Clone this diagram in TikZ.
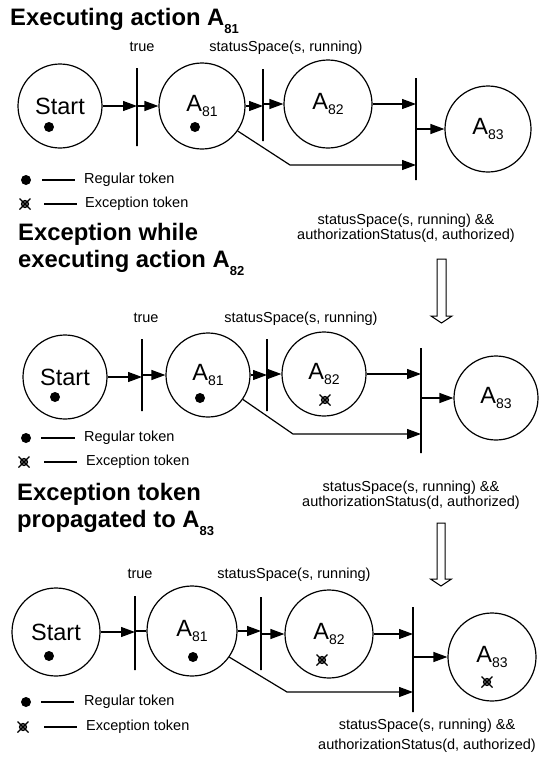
\documentclass[tikz,border=0pt]{standalone}
\usepackage{fontspec}
\setmainfont{Liberation Sans}
\usetikzlibrary{arrows.meta}

% text sizes
\newcommand{\smalltxt}{\fontsize{14.5}{16}\selectfont}
% place names with a lowered index, e.g. A81
\newcommand{\Asub}[1]{A\raisebox{-5pt}{\fontsize{14}{14}\selectfont #1}}
\newcommand{\Tsub}[1]{A\raisebox{-8pt}{\fontsize{13}{13}\selectfont #1}}

\tikzset{
  place/.style={circle, draw, line width=1.2pt, inner sep=0pt,
                font=\fontsize{23.5}{23.5}\selectfont},
  trans/.style={rectangle, draw, line width=1.4pt, inner sep=0pt, minimum width=0pt},
  arr/.style={line width=1.2pt, -{Triangle[length=14pt,width=10pt]}},
  flow/.style={line width=1.2pt},
  guard/.style={font=\smalltxt, anchor=base, inner sep=0pt},
  heading/.style={font=\fontsize{23.8}{26.5}\selectfont\bfseries, anchor=base west,
                  align=left, inner sep=0pt},
  legtxt/.style={font=\smalltxt, anchor=west, inner sep=0pt},
  blockarrow/.style={draw, line width=1pt, fill=white},
  regtok/.pic={\fill (0,0) circle (5pt);},
  exctok/.pic={
    \fill[gray] (0,0) circle (3.5pt);
    \draw[line width=1.2pt] (0,0) circle (3.5pt);
    \draw[line width=1.2pt] (-5.5pt,-5.5pt) -- (5.5pt,5.5pt)
                            (-5.5pt,5.5pt) -- (5.5pt,-5.5pt);
  }
}

\begin{document}
\begin{tikzpicture}[x=1pt, y=-1pt]
\useasboundingbox (0,0) rectangle (540,761);

% ---------------- panel 1 ----------------
\node[heading] (t1) at (10,25) {Executing action \Tsub{81}};
\node[guard] (g1a) at (142,51) {true};
\node[guard] (g1b) at (286,51) {statusSpace(s, running)};

\node[place, minimum size=84pt] (p1s)   at (60,106)  {Start};
\node[trans, minimum height=78pt] (p1b1) at (137,107) {};
\node[place, minimum size=86pt] (p1a81) at (202,106) {\Asub{81}};
\node[trans, minimum height=72pt] (p1b2) at (263,105) {};
\node[place, minimum size=88pt] (p1a82) at (328,104) {\Asub{82}};
\node[trans, minimum height=102pt] (p1b3) at (416,129) {};
\node[place, minimum size=86pt] (p1a83) at (488,129) {\Asub{83}};
\coordinate (p1k) at (290,165);

\draw[arr] (p1s.east) -- (p1s.east -| p1b1.center);
\draw[arr] (p1b1.center |- p1a81.west) -- (p1a81.west);
\draw[arr] (p1a81.east) -- (p1a81.east -| p1b2.center);
\draw[arr] (p1b2.center |- p1a82.west) -- (p1a82.west);
\draw[arr] (p1a82.east) -- (p1a82.east -| p1b3.center);
\draw[arr] (p1b3.center |- p1a83.west) -- (p1a83.west);
\draw[arr] (p1a81.-35) -- (p1k) -- (p1k -| p1b3.center);

\pic at (49,127) {regtok};
\pic at (195,127) {regtok};

\pic at (26,180) {regtok};
\coordinate (l1a) at (42,180); \coordinate (l1b) at (75,180);
\draw[flow] (l1a) -- (l1b);
\node[legtxt] (l1t) at (84,180) {Regular token};
\pic at (25,204) {exctok};
\coordinate (l1c) at (44,204); \coordinate (l1d) at (77,204);
\draw[flow] (l1c) -- (l1d);
\node[legtxt] (l1u) at (85,204) {Exception token};

\node[guard] (c1a) at (406,224) {statusSpace(s, running) \&\&};
\node[guard] (c1b) at (406,239) {authorizationStatus(d, authorized)};

\draw[blockarrow] (437,259) -- (446,259) -- (446,316) -- (452,316) -- (441.5,323)
  -- (431,316) -- (437,316) -- cycle;

% ---------------- panel 2 ----------------
\node[heading] (t2) at (18,267) {Exception while\\executing action \Tsub{82}};
\node[guard] (g2a) at (146,322) {true};
\node[guard] (g2b) at (301,322) {statusSpace(s, running)};

\node[place, minimum size=84pt] (p2s)   at (65,377)  {Start};
\node[trans, minimum height=72pt] (p2b1) at (142,375) {};
\node[place, minimum size=84pt] (p2a81) at (208,375) {\Asub{81}};
\node[trans, minimum height=72pt] (p2b2) at (267,375) {};
\node[place, minimum size=84pt] (p2a82) at (324,374) {\Asub{82}};
\node[trans, minimum height=105pt] (p2b3) at (421,400.5) {};
\node[place, minimum size=84pt] (p2a83) at (496,398) {\Asub{83}};
\coordinate (p2k) at (293,434);

\draw[arr] (p2s.east) -- (p2s.east -| p2b1.center);
\draw[arr] (p2b1.center |- p2a81.west) -- (p2a81.west);
\draw[arr] (p2a81.east) -- (p2a81.east -| p2b2.center);
\draw[arr] (p2b2.center |- p2a82.west) -- (p2a82.west);
\draw[arr] (p2a82.east) -- (p2a82.east -| p2b3.center);
\draw[arr] (p2b3.center |- p2a83.west) -- (p2a83.west);
\draw[arr] (p2a81.-35) -- (p2k) -- (p2k -| p2b3.center);

\pic at (55,397) {regtok};
\pic at (200,398) {regtok};
\pic at (325,400) {exctok};

\pic at (26,438) {regtok};
\coordinate (l2a) at (41,438); \coordinate (l2b) at (75,438);
\draw[flow] (l2a) -- (l2b);
\node[legtxt] (l2t) at (84,438) {Regular token};
\pic at (24,462) {exctok};
\coordinate (l2c) at (44,462); \coordinate (l2d) at (77,462);
\draw[flow] (l2c) -- (l2d);
\node[legtxt] (l2u) at (86,462) {Exception token};

\node[guard] (c2a) at (411,491) {statusSpace(s, running) \&\&};
\node[guard] (c2b) at (411,506) {authorizationStatus(d, authorized)};

\draw[blockarrow] (437,523) -- (445,523) -- (445,579) -- (451.5,579) -- (441,586)
  -- (430.5,579) -- (437,579) -- cycle;

% ---------------- panel 3 ----------------
\node[heading] (t3) at (17,527) {Exception token\\propagated to \Tsub{83}};
\node[guard] (g3a) at (140,578) {true};
\node[guard] (g3b) at (294,578) {statusSpace(s, running)};

\node[place, minimum size=88pt] (p3s)   at (56,632)  {Start};
\node[trans, minimum height=74pt] (p3b1) at (135,633) {};
\node[place, minimum size=90pt] (p3a81) at (192,631) {\Asub{81}};
\node[trans, minimum height=73pt] (p3b2) at (261,633.5) {};
\node[place, minimum size=88pt] (p3a82) at (329,634) {\Asub{82}};
\node[trans, minimum height=105pt] (p3b3) at (413,659.5) {};
\node[place, minimum size=88pt] (p3a83) at (492,657) {\Asub{83}};
\coordinate (p3k) at (287,692);

\draw[arr] (p3s.east) -- (p3s.east -| p3b1.center);
\draw[flow] (p3b1.center |- p3a81.west) -- (p3a81.west);
\draw[arr] (p3a81.east) -- (p3a81.east -| p3b2.center);
\draw[arr] (p3b2.center |- p3a82.west) -- (p3a82.west);
\draw[arr] (p3a82.east) -- (p3a82.east -| p3b3.center);
\draw[arr] (p3b3.center |- p3a83.west) -- (p3a83.west);
\draw[arr] (p3a81.-35) -- (p3k) -- (p3k -| p3b3.center);

\pic at (49,656) {regtok};
\pic at (193,657) {regtok};
\pic at (322,660) {exctok};
\pic at (487,682) {exctok};

\pic at (26,702) {regtok};
\coordinate (l3a) at (41,702); \coordinate (l3b) at (74,702);
\draw[flow] (l3a) -- (l3b);
\node[legtxt] (l3t) at (84,702) {Regular token};
\pic at (23,727) {exctok};
\coordinate (l3c) at (44,727); \coordinate (l3d) at (77,727);
\draw[flow] (l3c) -- (l3d);
\node[legtxt] (l3u) at (86,727) {Exception token};

\node[guard] (c3a) at (427,729) {statusSpace(s, running) \&\&};
\node[guard] (c3b) at (427,749) {authorizationStatus(d, authorized)};
\end{tikzpicture}
\end{document}
